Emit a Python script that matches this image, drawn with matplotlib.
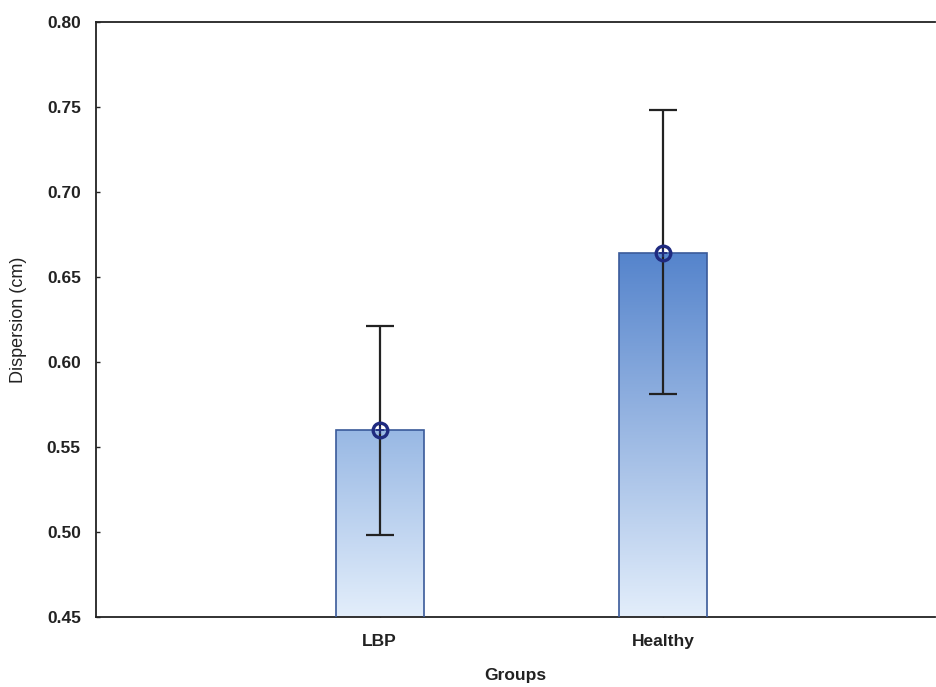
import numpy as np
import matplotlib.pyplot as plt
from matplotlib.colors import LinearSegmentedColormap

groups = ['LBP', 'Healthy']
means = [0.560, 0.664]
upper = [0.621, 0.748]
lower = [0.498, 0.581]

top_colors = ['#98b8e4', '#5584cc']
bottom_color = '#e3eefb'

fig = plt.figure(figsize=(9.36, 6.87), dpi=100)
ax = fig.add_axes([0.1026, 0.1019, 0.896, 0.8661])

x = np.arange(1, len(groups) + 1)
width = 0.31
ymin, ymax = 0.45, 0.80

bars = ax.bar(x, means, width=width, bottom=0, facecolor='none',
              edgecolor='#3a5a9a', linewidth=1.2, zorder=3)

# gradient fill clipped to each bar
for bar, top_c in zip(bars, top_colors):
    cmap = LinearSegmentedColormap.from_list('g', [bottom_color, top_c])
    grad = np.linspace(0, 1, 256).reshape(-1, 1)
    x0 = bar.get_x()
    im = ax.imshow(grad, cmap=cmap, aspect='auto', origin='lower',
                   extent=[x0, x0 + bar.get_width(), ymin, bar.get_height()],
                   zorder=2)
    im.set_clip_path(bar)

yerr = [np.array(means) - np.array(lower), np.array(upper) - np.array(means)]
ax.errorbar(x, means, yerr=yerr, fmt='none', ecolor='#222222',
            elinewidth=1.6, capsize=10, capthick=1.6, zorder=4)
ax.plot(x, means, 'o', markersize=10.5, markerfacecolor='none',
        markeredgecolor='#1f2a80', markeredgewidth=2.4, zorder=5)
ax.plot(x, means, '+', markersize=6, color='#1f2a80', markeredgewidth=1.2, zorder=5)

ax.set_xlim(0, 2.956)
ax.set_ylim(ymin, ymax)
ax.set_yticks(np.arange(0.45, 0.801, 0.05))
ax.set_yticklabels(['%.2f' % v for v in np.arange(0.45, 0.801, 0.05)])
ax.set_xticks(x)
ax.set_xticklabels(groups)

ax.spines['right'].set_visible(False)
for s in ['left', 'bottom', 'top']:
    ax.spines[s].set_color('#222222')
    ax.spines[s].set_linewidth(1.3)

ax.tick_params(axis='both', direction='in', length=3, width=1, colors='#222222')
for lab in ax.get_yticklabels() + ax.get_xticklabels():
    lab.set_fontfamily('Liberation Sans')
    lab.set_fontweight('bold')
    lab.set_fontsize(12.5)
    lab.set_color('#222222')
ax.tick_params(axis='y', pad=11)
ax.tick_params(axis='x', pad=12)

ax.set_xlabel('Groups', fontfamily='Liberation Sans', fontweight='bold',
              fontsize=12.5, labelpad=14, color='#222222')
ax.set_ylabel('Dispersion (cm)', fontfamily=['Liberation Sans Narrow', 'Liberation Sans'],
              fontsize=13, labelpad=14, color='#222222')

fig.savefig('out.png', dpi=100)
